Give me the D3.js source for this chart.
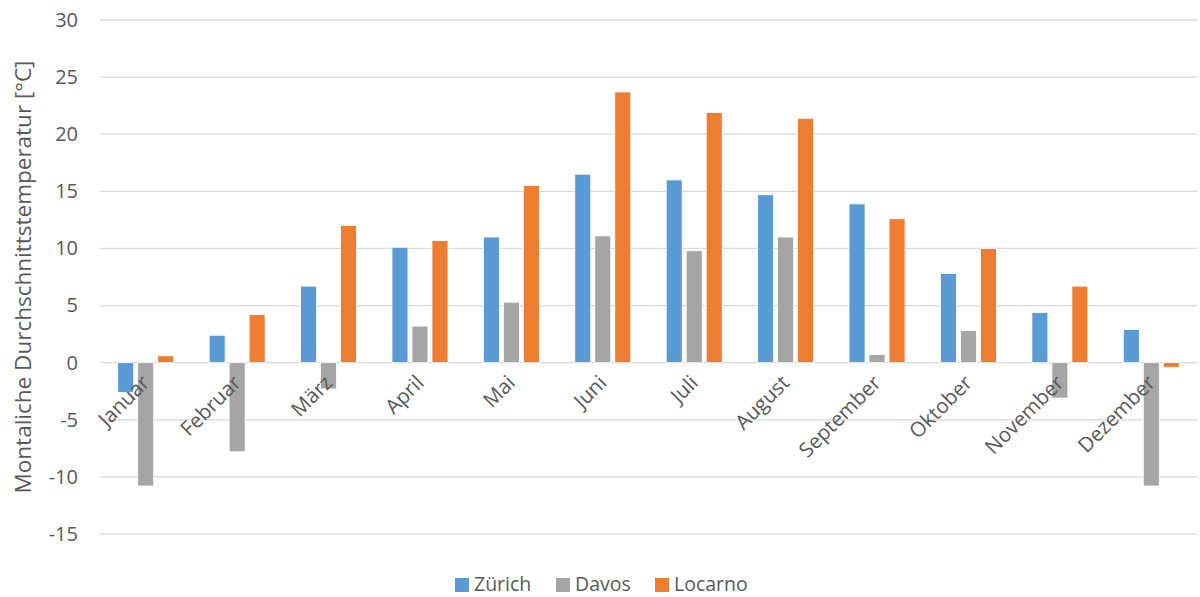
<!DOCTYPE html>
<html><head><meta charset="utf-8">
<script src="https://cdn.jsdelivr.net/npm/d3@7"></script>
<style>body{margin:0;background:#fff}svg{display:block}text{font-family:"Open Sans",sans-serif;fill:#595959}</style>
</head><body><svg id="c" width="1200" height="597"></svg>
<script>
const months = ["Januar","Februar","März","April","Mai","Juni","Juli","August","September","Oktober","November","Dezember"];
const seriesNames = ["Zürich","Davos","Locarno"];
const zuerich = [-2.6,2.4,6.7,10.1,11.0,16.5,16.0,14.7,13.9,7.8,4.4,2.9];
const davos = [-10.8,-7.8,-2.3,3.2,5.3,11.1,9.8,11.0,0.7,2.8,-3.1,-10.8];
const locarno = [0.6,4.2,12.0,10.7,15.5,23.7,21.9,21.4,12.6,10.0,6.7,-0.4];
const yTicks = [-15,-10,-5,0,5,10,15,20,25,30];
const colors = ["#5B9BD5","#A5A5A5","#ED7D31"];
const yTitle = "Montaliche Durchschnittstemperatur [°C]";

const series = [zuerich, davos, locarno];
const svg = d3.select("#c");
const L = 100, R = 1197, T = 20, B = 534;
const x = d3.scaleBand().domain(months).range([L, R]).padding(0);
const y = d3.scaleLinear().domain([-15, 30]).range([B, T]);
const barW = 16, step = 20;

// gridlines
svg.append("g").selectAll("line").data(yTicks).join("line")
  .attr("x1", L).attr("x2", R).attr("y1", d => y(d)).attr("y2", d => y(d))
  .attr("stroke", "#D9D9D9").attr("stroke-width", 1.3);

// y axis labels
const yAxis = d3.axisLeft(y).tickValues(yTicks).tickSize(0).tickPadding(22).tickFormat(d => String(d));
const ga = svg.append("g").attr("transform", `translate(${L},0)`).call(yAxis);
ga.select(".domain").remove();
ga.selectAll("text").style("font-size", "20px").attr("fill", "#595959").style("font-family", '"Open Sans",sans-serif');

// bars
series.forEach((vals, si) => {
  svg.append("g").selectAll("rect").data(vals).join("rect")
    .attr("x", (d, i) => x(months[i]) + x.bandwidth() / 2 - 28 + si * step)
    .attr("width", barW)
    .attr("y", d => y(Math.max(0, d)))
    .attr("height", d => Math.abs(y(d) - y(0)))
    .attr("fill", colors[si])
    .attr("stroke", "#fff").attr("stroke-width", 0.8);
});

// x labels
svg.append("g").selectAll("text").data(months).join("text")
  .attr("transform", d => `translate(${x(d) + x.bandwidth() / 2},${379}) rotate(-45)`)
  .attr("text-anchor", "end").attr("dy", "0.35em")
  .style("font-size", "20.5px").text(d => d);

// y title
svg.append("text").attr("transform", `translate(31,277) rotate(-90)`)
  .attr("text-anchor", "middle").style("font-size", "22.5px").text(yTitle);

// legend
const legX = [455, 556, 655];
const lg = svg.append("g");
seriesNames.forEach((n, i) => {
  lg.append("rect").attr("x", legX[i]).attr("y", 578).attr("width", 14).attr("height", 14).attr("fill", colors[i]);
  lg.append("text").attr("x", legX[i] + 19).attr("y", 591).style("font-size", "19.5px").text(n);
});
</script></body></html>
